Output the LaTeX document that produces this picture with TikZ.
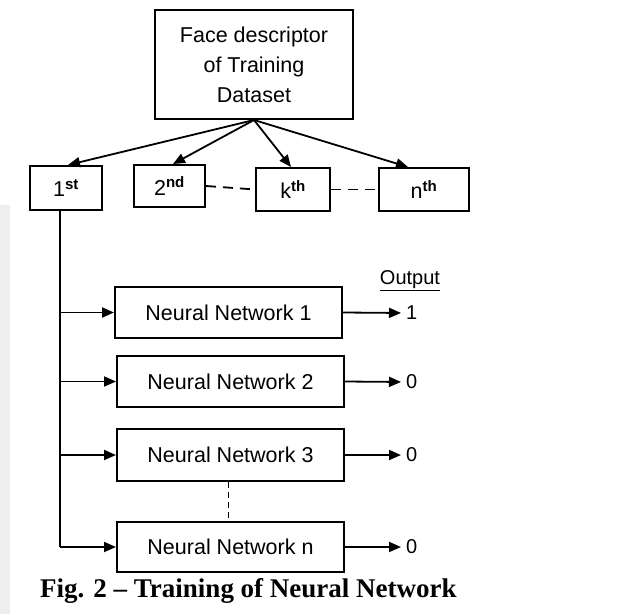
\documentclass[tikz,border=0pt]{standalone}
\usepackage{fontspec}
\setmainfont{Liberation Sans}
\newfontfamily\capfont{Liberation Serif}
\usetikzlibrary{arrows.meta,calc}
\tikzset{
  box/.style={draw, line width=2pt, inner sep=0pt, align=center, font=\fontsize{21.5}{30}\selectfont},
  arr/.style={line width=1.8pt, -{Triangle[length=12pt,width=10pt]}},
  lnk/.style={line width=1.8pt},
  dsh/.style={line width=1.8pt, dash pattern=on 10pt off 7pt},
  vdsh/.style={line width=1.8pt, dash pattern=on 6pt off 4pt},
  lbl/.style={inner sep=0pt, font=\fontsize{20}{22}\selectfont}
}
\begin{document}
\begin{tikzpicture}[x=1pt,y=-1pt]
\useasboundingbox (0,0) rectangle (635,614);
\fill[gray!13] (0,205) rectangle (10,614);
\node[box, minimum width=198pt, minimum height=109pt] (top) at (254,64.5) {Face descriptor\\of Training\\Dataset};
\node[box, minimum width=72pt, minimum height=44pt] (n1) at (66,188) {1\textsuperscript{\bfseries st}};
\node[box, minimum width=71pt, minimum height=42pt] (n2) at (169.5,186) {2\textsuperscript{\bfseries nd}};
\node[box, minimum width=74pt, minimum height=43pt] (nk) at (293,189.5) {k\textsuperscript{\bfseries th}};
\node[box, minimum width=90pt, minimum height=43pt] (nn) at (424,189.5) {n\textsuperscript{\bfseries th}};
\draw[arr] (top.south) -- ([xshift=2pt]n1.north);
\draw[arr] (top.south) -- ([xshift=3.5pt]n2.north);
\draw[arr] (top.south) -- ([xshift=-2pt]nk.north);
\draw[arr] (top.south) -- ([xshift=-16pt]nn.north);
\draw[dsh] (n2.east) -- (nk.west);
\draw[dsh] (nk.east) -- (nn.west);
\node[box, minimum width=227pt, minimum height=51pt] (a1) at (228.5,312.5) {Neural Network 1};
\node[box, minimum width=227pt, minimum height=51pt] (a2) at (230.5,381.5) {Neural Network 2};
\node[box, minimum width=227pt, minimum height=52pt] (a3) at (230.5,455) {Neural Network 3};
\node[box, minimum width=227pt, minimum height=50pt] (an) at (230.5,547) {Neural Network n};
\coordinate (trunk) at ([xshift=-6pt]n1.south);
\draw[lnk] (trunk) -- (trunk |- an.west);
\draw[arr] (trunk |- a1.west) -- (a1.west);
\draw[arr] (trunk |- a2.west) -- (a2.west);
\draw[arr] (trunk |- a3.west) -- (a3.west);
\draw[arr] (trunk |- an.west) -- (an.west);
\draw[vdsh] ([xshift=-2pt]a3.south) -- ([xshift=-2pt]an.north);
\node[lbl] (outl) at (410,281) {\underline{Output}};
\node[lbl, anchor=west] (o1) at (406,313) {1};
\node[lbl, anchor=west] (o2) at (406,382) {0};
\node[lbl, anchor=west] (o3) at (406,455) {0};
\node[lbl, anchor=west] (on) at (406,547) {0};
\draw[arr, shorten >=5pt] (a1.east) -- (o1.west);
\draw[arr, shorten >=5pt] (a2.east) -- (o2.west);
\draw[arr, shorten >=5pt] (a3.east) -- (o3.west);
\draw[arr, shorten >=5pt] (an.east) -- (on.west);
\node[inner sep=0pt, anchor=base west, font=\capfont\bfseries\fontsize{27}{30}\selectfont] (cap) at (40,597) {Fig. 2 \textendash{} Training of Neural Network};
\end{tikzpicture}
\end{document}
